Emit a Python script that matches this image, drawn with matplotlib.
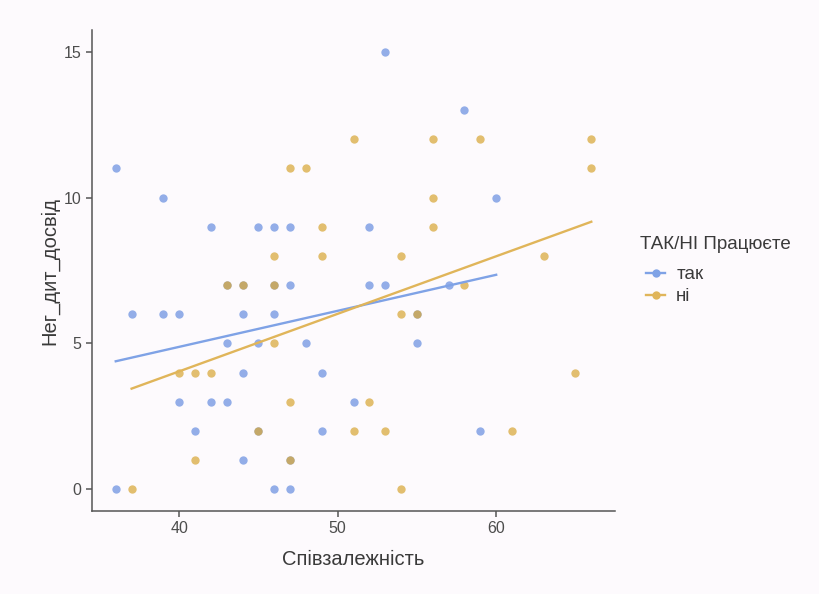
import matplotlib
matplotlib.use("Agg")
import matplotlib.pyplot as plt
from matplotlib.lines import Line2D
import numpy as np

# scatter data: Співзалежність vs Нег_дит_досвід, split by answer
tak_x = [36, 36, 37, 39, 39, 40, 40, 41, 42, 42, 43, 43, 43, 44, 44, 44, 44, 45, 45, 45,
         46, 46, 46, 46, 47, 47, 47, 47, 48, 49, 49, 51, 52, 52, 53, 53, 55, 55, 57, 58, 59, 60]
tak_y = [11, 0, 6, 10, 6, 6, 3, 2, 9, 3, 5, 3, 7, 6, 4, 1, 7, 9, 5, 2,
         9, 6, 0, 7, 9, 7, 0, 1, 5, 4, 2, 3, 9, 7, 15, 7, 5, 6, 7, 13, 2, 10]

ni_x = [37, 40, 41, 41, 42, 43, 44, 45, 46, 46, 46, 47, 47, 47, 48, 49, 49, 51, 51, 52,
        53, 54, 54, 54, 55, 56, 56, 56, 58, 59, 61, 63, 65, 66, 66]
ni_y = [0, 4, 4, 1, 4, 7, 7, 2, 8, 7, 5, 11, 3, 1, 11, 9, 8, 12, 2, 3,
        2, 8, 6, 0, 6, 12, 10, 9, 7, 12, 2, 8, 4, 12, 11]

groups = ["так", "ні"]
legend_title = "ТАК/НІ Працюєте"
colors = ["#6A90E0", "#D8A738"]
line_colors = ["#7FA2E6", "#E0B55A"]

FONT = ["Liberation Sans", "DejaVu Sans"]
plt.rcParams['font.family'] = FONT

fig = plt.figure(figsize=(8.19, 5.94), dpi=100)
fig.patch.set_facecolor("#FDFAFD")
ax = fig.add_axes([0.1123, 0.1397, 0.6387, 0.8098])
ax.set_facecolor("#FDFAFD")

series = [(tak_x, tak_y), (ni_x, ni_y)]
for (xs, ys), c in zip(series, colors):
    ax.scatter(xs, ys, s=36, color=c, alpha=0.72, linewidths=0, zorder=2)

# linear fit per group
for (xs, ys), c in zip(series, line_colors):
    xs = np.array(xs, dtype=float)
    ys = np.array(ys, dtype=float)
    k, b = np.polyfit(xs, ys, 1)
    xx = np.array([xs.min(), xs.max()])
    ax.plot(xx, k * xx + b, color=c, lw=1.7, zorder=3)

ax.set_xlim(34.5, 67.5)
ax.set_ylim(-0.75, 15.75)
ax.set_xticks([40, 50, 60])
ax.set_yticks([0, 5, 10, 15])

for side in ["top", "right"]:
    ax.spines[side].set_visible(False)
for side in ["left", "bottom"]:
    ax.spines[side].set_color("#555555")
    ax.spines[side].set_linewidth(1.1)
ax.tick_params(colors="#555555", labelcolor="#4D4D4D", labelsize=11.5, length=4, width=1.1)

ax.set_xlabel("Співзалежність", fontsize=14.5, color="#3A3A3A", labelpad=10)
ax.set_ylabel("Нег_дит_досвід", fontsize=14.5, color="#3A3A3A", labelpad=3)

# legend: title as separate text, entries below it
fig.text(0.781, 0.588, legend_title, fontsize=13.5, color="#3A3A3A", va="center", ha="left")
handles = [Line2D([0], [0], color=lc, lw=1.7, marker="o", markersize=6,
                  markerfacecolor=lc, markeredgewidth=0) for lc in line_colors]
leg = fig.legend(handles, groups, loc="center left",
                 bbox_to_anchor=(0.789, 0.519), frameon=False, fontsize=13.5,
                 handlelength=1.0, handletextpad=0.6, labelspacing=0.25,
                 borderpad=0, borderaxespad=0)
for t in leg.get_texts():
    t.set_color("#3A3A3A")

fig.savefig("out.png", dpi=100, facecolor=fig.get_facecolor())
